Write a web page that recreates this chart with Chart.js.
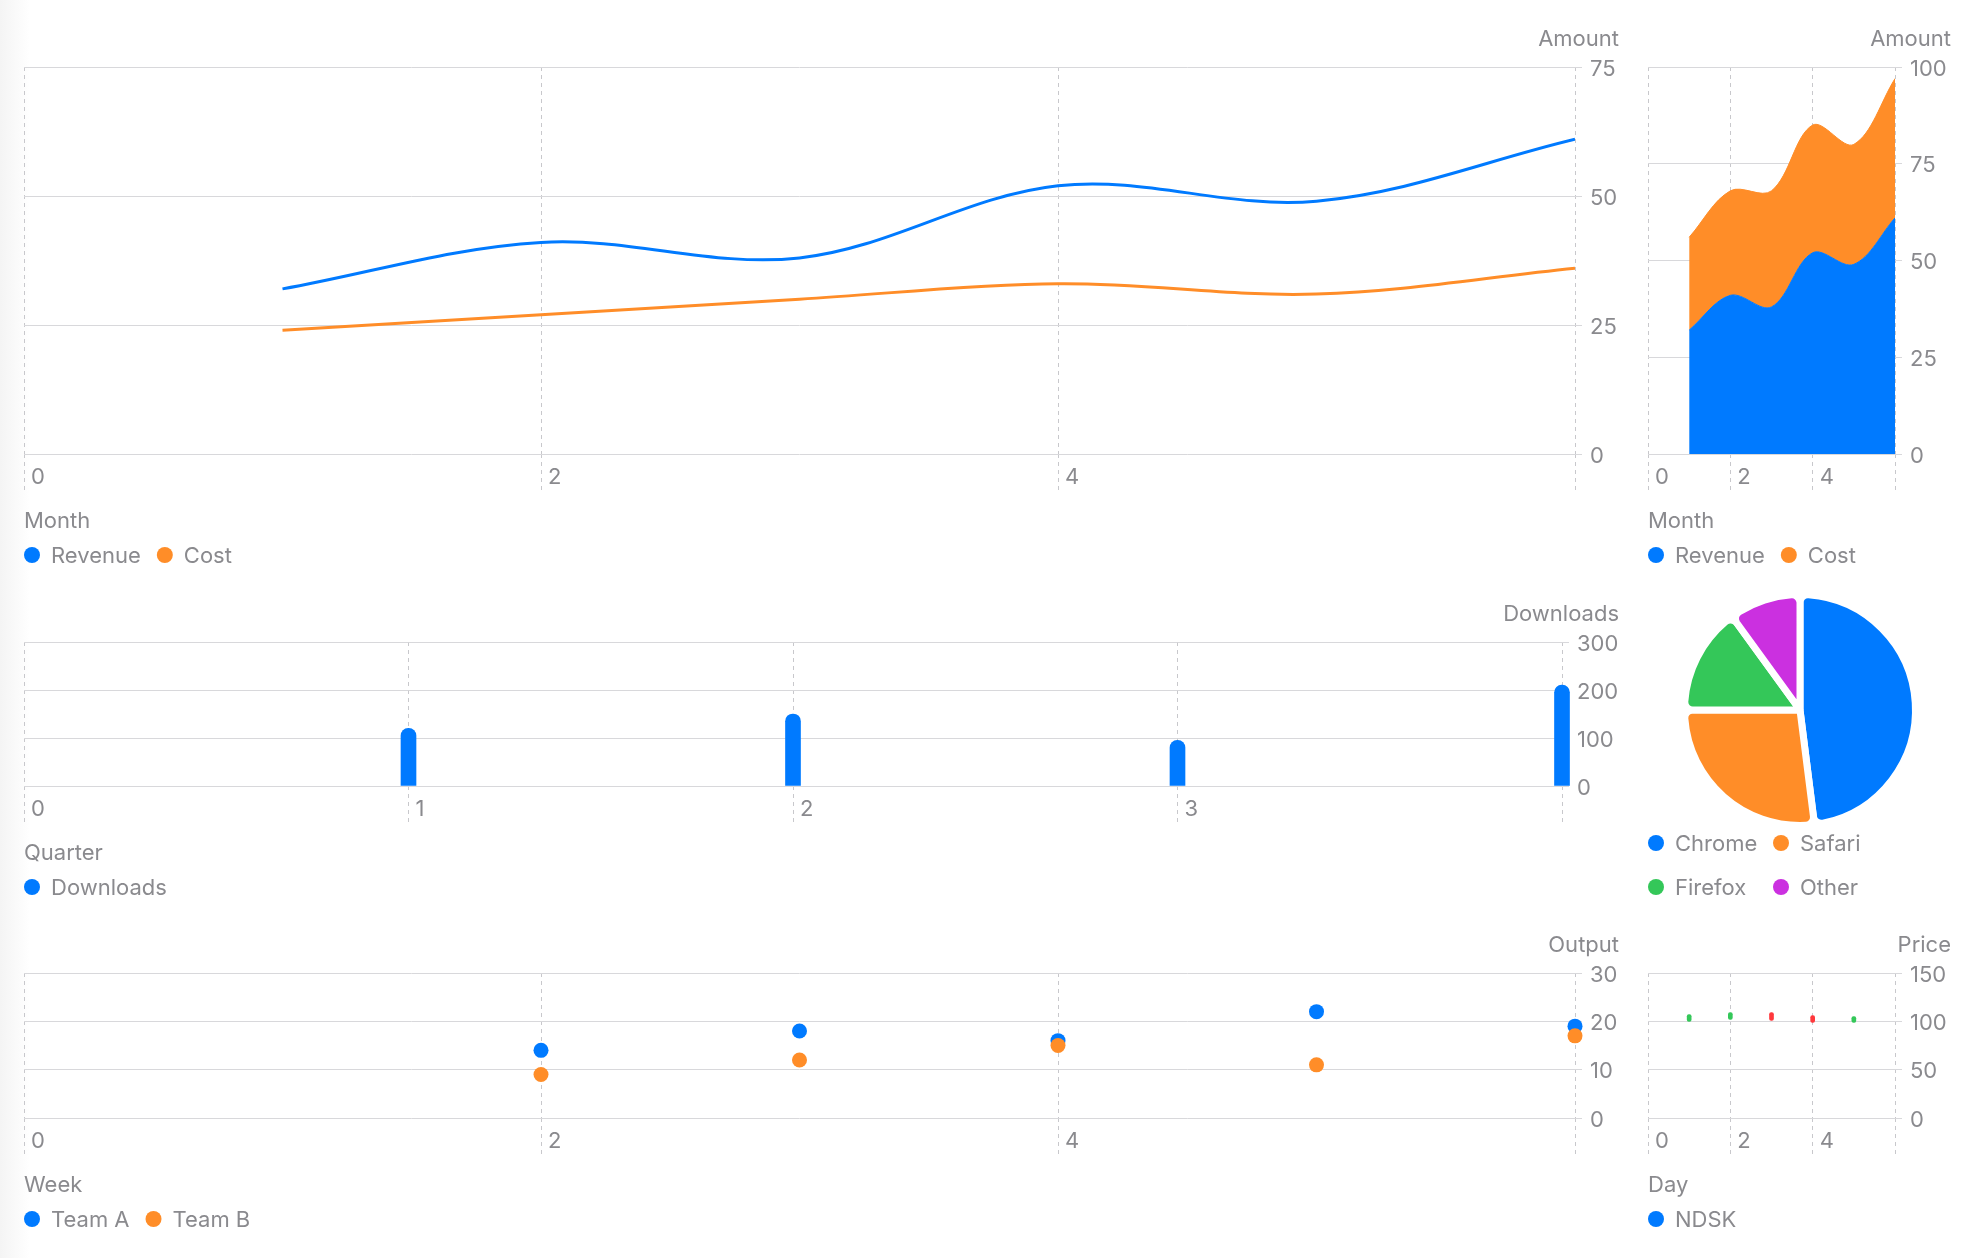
<!DOCTYPE html>
<html>
<head>
<meta charset="utf-8">
<script src="https://cdn.jsdelivr.net/npm/chart.js@4.4.1/dist/chart.umd.min.js"></script>
<style>
html,body{margin:0;padding:0;background:#fff;width:1976px;height:1258px;overflow:hidden;}
.strip{position:absolute;left:0;top:0;width:30px;height:1258px;background:linear-gradient(to right,#f4f4f4,#ffffff);}
canvas{position:absolute;display:block;}
</style>
</head>
<body>
<div class="strip"></div>
<canvas id="c1" width="1620" height="570" style="left:0;top:0"></canvas>
<canvas id="c2" width="320" height="570" style="left:1640px;top:0"></canvas>
<canvas id="c3" width="1620" height="312" style="left:0;top:590px"></canvas>
<canvas id="c4" width="320" height="340" style="left:1640px;top:580px"></canvas>
<canvas id="c5" width="1620" height="314" style="left:0;top:920px"></canvas>
<canvas id="c6" width="320" height="314" style="left:1640px;top:920px"></canvas>
<script>
// ---------- data ----------
const months = [1, 2, 3, 4, 5, 6];
const revenue = [32, 41, 38, 52, 49, 61];
const cost = [24, 27, 30, 33, 31, 36];

const quarters = [1, 2, 3, 4];
const downloads = [120, 150, 95, 210];

const browsers = ['Chrome', 'Safari', 'Firefox', 'Other'];
const browserShare = [48, 27, 15, 10];

const weeks = [2, 3, 4, 5, 6];
const teamA = [14, 18, 16, 22, 19];
const teamB = [9, 12, 15, 11, 17];

const days = [1, 2, 3, 4, 5];
const priceOpen = [100, 102, 109, 106, 99];
const priceClose = [107, 109, 101, 99, 105];

// ---------- style ----------
const FONT = "Inter, 'Noto Sans', 'DejaVu Sans', sans-serif";
const TXT = '#8a8a8e';
const BLUE = '#007AFF';
const ORANGE = '#FF8D28';
const GREEN = '#34C759';
const PURPLE = '#CB30E0';
const RED = '#FF383C';
const GRID = '#d8d8db';
const DASH = '#c8c8cc';
const FS = 22;

Chart.defaults.font.family = FONT;
Chart.defaults.font.size = FS;
Chart.defaults.color = TXT;
Chart.defaults.animation = false;
Chart.defaults.events = [];
Chart.defaults.plugins.legend.display = false;
Chart.defaults.plugins.tooltip.enabled = false;

const decor = {
  id: 'decor',
  afterDraw(chart, args, opts) {
    const ctx = chart.ctx, a = chart.chartArea;
    ctx.save();
    ctx.font = FS + 'px ' + FONT;
    ctx.fillStyle = TXT;
    ctx.textBaseline = 'middle';
    if (opts.yTitle) {
      ctx.textAlign = 'right';
      ctx.fillText(opts.yTitle, chart.scales.y.right + 1, a.top - 28);
    }
    if (opts.xTitle) {
      ctx.textAlign = 'left';
      ctx.fillText(opts.xTitle, a.left, a.bottom + 67);
    }
    if (opts.items) {
      ctx.textAlign = 'left';
      let x = a.left;
      opts.items.forEach((it, i) => {
        let cx = x, cy = a.bottom + 101;
        if (opts.grid) { cx = opts.grid[i][0]; cy = opts.grid[i][1]; }
        ctx.fillStyle = it.color;
        ctx.beginPath();
        ctx.arc(cx + 8, cy, 8, 0, Math.PI * 2);
        ctx.fill();
        ctx.fillStyle = TXT;
        ctx.fillText(it.text, cx + 27, cy + 1);
        x = cx + 27 + ctx.measureText(it.text).width + 16;
      });
    }
    ctx.restore();
  }
};
Chart.register(decor);

function xAxis(max, step) {
  return {
    type: 'linear', min: 0, max: max, offset: false,
    ticks: {
      stepSize: step, align: 'start', labelOffset: 7, padding: -26,
      maxRotation: 0, autoSkip: false, color: TXT, font: {family: FONT, size: FS},
      callback: v => (v === max ? '' : String(v))
    },
    grid: {color: DASH, lineWidth: 1, tickLength: 36, tickColor: DASH, tickBorderDash: [4, 4], offset: false},
    border: {display: false, dash: [4, 4]},
    afterFit: s => { s.height = 36; }
  };
}
function yAxis(max, step, width) {
  return {
    type: 'linear', position: 'right', min: 0, max: max,
    ticks: {stepSize: step, padding: 8, labelOffset: 2, color: TXT, font: {family: FONT, size: FS}},
    grid: {color: GRID, lineWidth: 1, tickLength: 7, tickColor: GRID},
    border: {display: false},
    afterFit: s => { s.width = width; }
  };
}
const pts = (xs, ys) => xs.map((x, i) => ({x: x, y: ys[i]}));

// 1. line chart
new Chart(document.getElementById('c1'), {
  type: 'line',
  data: {datasets: [
    {label: 'Revenue', data: pts(months, revenue), borderColor: BLUE, borderWidth: 3, pointRadius: 0, tension: 0.35, fill: false},
    {label: 'Cost', data: pts(months, cost), borderColor: ORANGE, borderWidth: 3, pointRadius: 0, tension: 0.35, fill: false}
  ]},
  options: {
    responsive: false,
    layout: {padding: {left: 24, top: 67, right: 2, bottom: 80}},
    scales: {x: xAxis(6, 2), y: yAxis(75, 25, 43)},
    plugins: {decor: {yTitle: 'Amount', xTitle: 'Month',
      items: [{text: 'Revenue', color: BLUE}, {text: 'Cost', color: ORANGE}]}}
  }
});

// 2. stacked area chart
new Chart(document.getElementById('c2'), {
  type: 'line',
  data: {datasets: [
    {label: 'Revenue', data: pts(months, revenue), borderColor: BLUE, backgroundColor: BLUE, borderWidth: 1, pointRadius: 0, tension: 0.35, fill: 'origin'},
    {label: 'Cost', data: pts(months, cost), borderColor: ORANGE, backgroundColor: ORANGE, borderWidth: 1, pointRadius: 0, tension: 0.35, fill: '-1'}
  ]},
  options: {
    responsive: false,
    layout: {padding: {left: 8, top: 67, right: 10, bottom: 80}},
    scales: {x: xAxis(6, 2), y: Object.assign(yAxis(100, 25, 55), {stacked: true})},
    plugins: {decor: {yTitle: 'Amount', xTitle: 'Month',
      items: [{text: 'Revenue', color: BLUE}, {text: 'Cost', color: ORANGE}]}}
  }
});

// 3. bar chart
new Chart(document.getElementById('c3'), {
  type: 'bar',
  data: {datasets: [
    {label: 'Downloads', data: pts(quarters, downloads), backgroundColor: BLUE, barThickness: 15, borderRadius: 8, borderSkipped: 'start', clip: false}
  ]},
  options: {
    responsive: false,
    layout: {padding: {left: 24, top: 52, right: 2, bottom: 80}},
    scales: {x: xAxis(4, 1), y: yAxis(300, 100, 56)},
    plugins: {decor: {yTitle: 'Downloads', xTitle: 'Quarter',
      items: [{text: 'Downloads', color: BLUE}]}}
  }
});

// 4. pie chart
new Chart(document.getElementById('c4'), {
  type: 'pie',
  data: {labels: browsers, datasets: [
    {data: browserShare, backgroundColor: [BLUE, ORANGE, GREEN, PURPLE], borderColor: '#ffffff', borderWidth: 7, borderRadius: 8}
  ]},
  options: {
    responsive: false,
    layout: {padding: {left: 41, right: 41, top: 11, bottom: 91}},
    plugins: {decor: {
      items: browsers.map((b, i) => ({text: b, color: [BLUE, ORANGE, GREEN, PURPLE][i]})),
      grid: [[8, 263], [133, 263], [8, 307], [133, 307]]
    }}
  }
});

// 5. scatter chart
new Chart(document.getElementById('c5'), {
  type: 'scatter',
  data: {datasets: [
    {label: 'Team A', data: pts(weeks, teamA), backgroundColor: BLUE, borderWidth: 0, pointRadius: 7.5, clip: false, order: 1},
    {label: 'Team B', data: pts(weeks, teamB), backgroundColor: ORANGE, borderWidth: 0, pointRadius: 7.5, clip: false, order: 0}
  ]},
  options: {
    responsive: false,
    layout: {padding: {left: 24, top: 53, right: 2, bottom: 80}},
    scales: {x: xAxis(6, 2), y: yAxis(30, 10, 43)},
    plugins: {decor: {yTitle: 'Output', xTitle: 'Week',
      items: [{text: 'Team A', color: BLUE}, {text: 'Team B', color: ORANGE}]}}
  }
});

// 6. price range chart
new Chart(document.getElementById('c6'), {
  type: 'bar',
  data: {datasets: [
    {label: 'NDSK', data: days.map((d, i) => ({x: d, y: [priceOpen[i], priceClose[i]]})),
     backgroundColor: days.map((d, i) => priceClose[i] >= priceOpen[i] ? GREEN : RED),
     barThickness: 4, borderRadius: 2, borderSkipped: false, clip: false}
  ]},
  options: {
    responsive: false,
    layout: {padding: {left: 8, top: 53, right: 10, bottom: 80}},
    scales: {x: xAxis(6, 2), y: yAxis(150, 50, 55)},
    plugins: {decor: {yTitle: 'Price', xTitle: 'Day',
      items: [{text: 'NDSK', color: BLUE}]}}
  }
});
</script>
</body>
</html>
